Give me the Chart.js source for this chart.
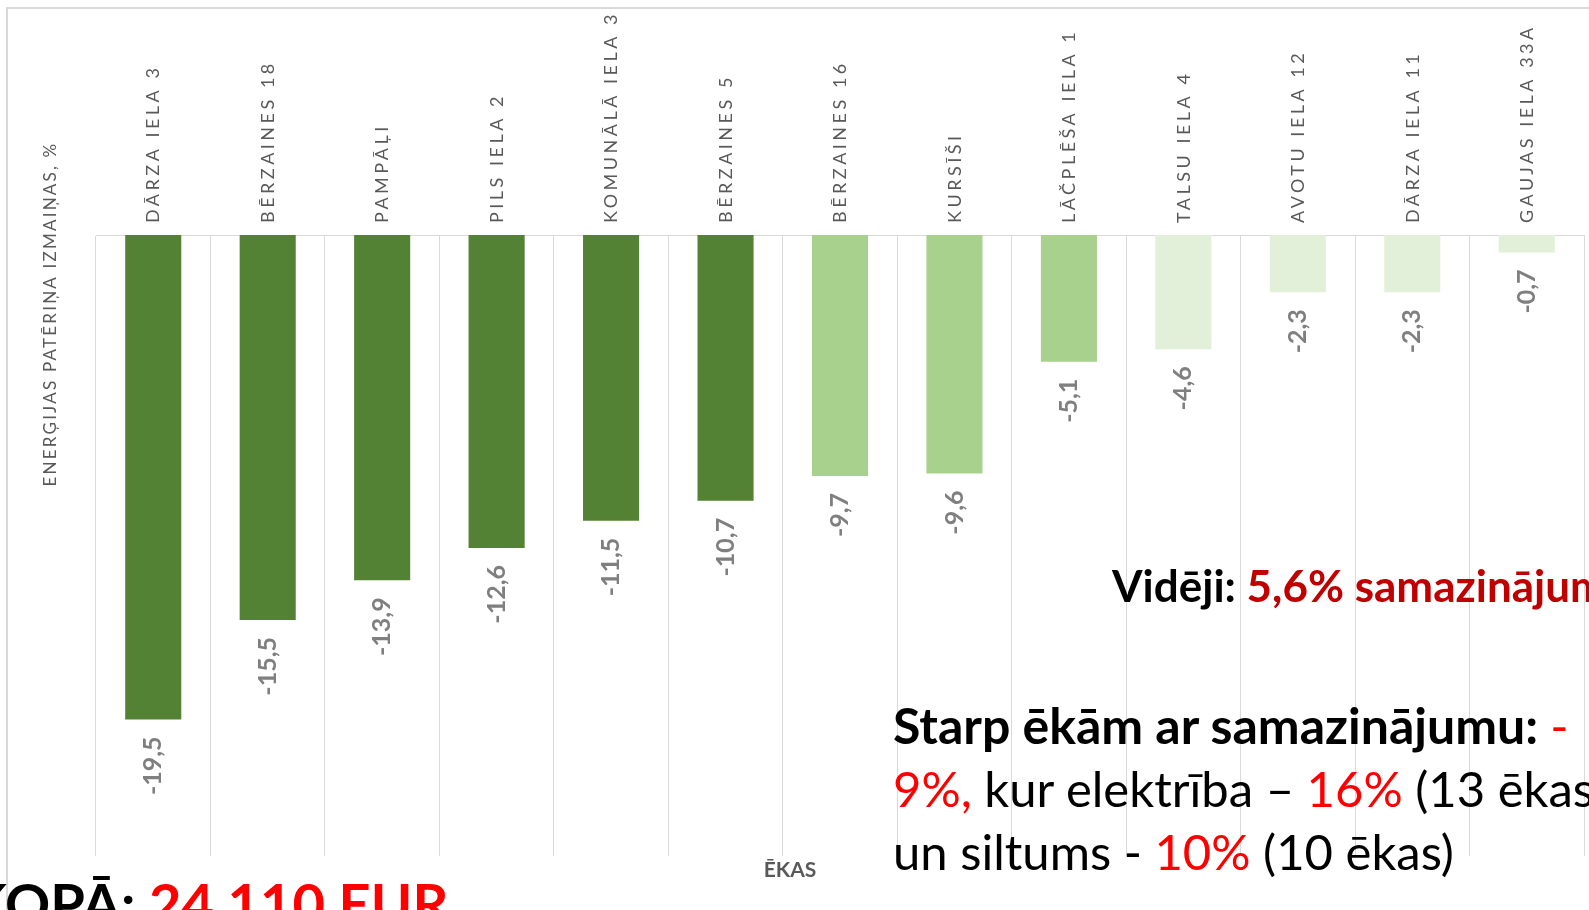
<!DOCTYPE html>
<html lang="lv">
<head>
<meta charset="utf-8">
<title>Enerģijas patēriņa izmaiņas</title>
<script src="https://cdn.jsdelivr.net/npm/chart.js@4.4.1/dist/chart.umd.min.js"></script>
<style>
    body {
        margin: 0;
        width: 1589px;
        height: 910px;
        overflow: hidden;
        position: relative;
        background: #ffffff;
        font-family: Lato, "Open Sans", sans-serif;
    }

    #frame {
        position: absolute;
        left: 6px;
        top: 7px;
        width: 1700px;
        height: 1000px;
        border: 2px solid #d9d9d9;
    }

    #chart {
        position: absolute;
        left: 0;
        top: 0;
    }

    .note {
        position: absolute;
        white-space: nowrap;
        color: #000000;
    }

    .red { color: #ff0000; }
    .dark-red { color: #c00000; }

    #avg {
        left: 1112px;
        top: 563px;
        font-size: 44px;
        font-weight: 700;
        line-height: 1;
    }

    #between {
        left: 893px;
        top: 694px;
        font-size: 49px;
        line-height: 63px;
    }

    #between b {
        font-size: 50px;
    }

    #total {
        left: 149px;
        top: 875px;
        font-size: 56px;
        font-weight: 700;
        line-height: 1;
    }

    #total .lead {
        position: absolute;
        right: 100%;
        top: 0;
    }
</style>
</head>
<body>

<div id="frame"></div>
<canvas id="chart" width="1589" height="910"></canvas>

<div class="note" id="avg">Vidēji: <span class="dark-red">5,6% samazinājums</span></div>

<div class="note" id="between"><b>Starp ēkām ar samazinājumu: </b><span class="red">-</span><br><span class="red">9%,</span> kur elektrība – <span class="red">16%</span> (13 ēkas)<br>un siltums - <span class="red">10%</span> (10 ēkas)</div>

<div class="note" id="total"><span class="lead">KOPĀ:&nbsp;</span><span class="red">24 110 EUR</span></div>

<script>

/* =========================
   DATA
========================= */

const buildings = [
    "DĀRZA IELA 3",
    "BĒRZAINES 18",
    "PAMPĀĻI",
    "PILS IELA 2",
    "KOMUNĀLĀ IELA 3",
    "BĒRZAINES 5",
    "BĒRZAINES 16",
    "KURSĪŠI",
    "LĀČPLĒŠA IELA 1",
    "TALSU IELA 4",
    "AVOTU IELA 12",
    "DĀRZA IELA 11",
    "GAUJAS IELA 33A"
];

const changePct = [
    -19.5, -15.5, -13.9, -12.6, -11.5, -10.7,
    -9.7, -9.6, -5.1,
    -4.6, -2.3, -2.3, -0.7
];

const yTitle = "ENERĢIJAS PATĒRIŅA IZMAIŅAS, %";
const xTitle = "ĒKAS";

/* =========================
   STYLES
========================= */

const barColours = [
    "#548235", "#548235", "#548235", "#548235", "#548235", "#548235",
    "#a9d18e", "#a9d18e", "#a9d18e",
    "#e2f0d9", "#e2f0d9", "#e2f0d9", "#e2f0d9"
];

const labelGrey = "#595959";
const gridGrey = "#d9d9d9";

function formatPct(v) {
    return v.toFixed(1).replace(".", ",");
}

/* =========================
   PLUGINS
========================= */

// wide letter spacing for the building names only
const tickSpacing = {
    id: "tickSpacing",
    beforeDraw(chart) {
        chart.ctx.letterSpacing = "3.5px";
    },
    beforeDatasetsDraw(chart) {
        chart.ctx.letterSpacing = "0px";
    }
};

const valueLabels = {
    id: "valueLabels",
    afterDatasetsDraw(chart) {
        const ctx = chart.ctx;
        const meta = chart.getDatasetMeta(0);

        ctx.save();
        ctx.letterSpacing = "0px";
        ctx.font = "bold 25px Lato";
        ctx.fillStyle = "#7f7f7f";
        ctx.textAlign = "right";
        ctx.textBaseline = "middle";

        meta.data.forEach((bar, i) => {
            ctx.save();
            ctx.translate(bar.x, bar.y + 17);
            ctx.rotate(-Math.PI / 2);
            ctx.fillText(formatPct(changePct[i]), 0, 0);
            ctx.restore();
        });

        ctx.restore();
    }
};

const axisTitles = {
    id: "axisTitles",
    afterDraw(chart) {
        const ctx = chart.ctx;
        const area = chart.chartArea;

        ctx.save();
        ctx.fillStyle = labelGrey;
        ctx.textAlign = "center";
        ctx.textBaseline = "middle";
        ctx.font = "17px Lato";
        ctx.letterSpacing = "2.2px";
        ctx.translate(area.left - 45, area.top + 79);
        ctx.rotate(-Math.PI / 2);
        ctx.fillText(yTitle, 0, 0);
        ctx.restore();

        ctx.save();
        ctx.fillStyle = labelGrey;
        ctx.textAlign = "center";
        ctx.textBaseline = "middle";
        ctx.font = "bold 21px Lato";
        ctx.letterSpacing = "0px";
        ctx.fillText(xTitle, area.left + 694, area.bottom + 14);
        ctx.restore();
    }
};

/* =========================
   CHART
========================= */

const ctx = document.getElementById("chart");

new Chart(ctx, {

    type: "bar",

    data: {
        labels: buildings,
        datasets: [
            {
                data: changePct,
                backgroundColor: barColours,
                borderWidth: 0,
                barPercentage: 0.49,
                categoryPercentage: 1
            }
        ]
    },

    options: {

        responsive: false,

        animation: false,

        layout: {
            padding: { left: 96, right: 5, top: 0, bottom: 54 }
        },

        plugins: {
            legend: { display: false },
            tooltip: { enabled: false }
        },

        scales: {

            x: {
                position: "top",
                grid: {
                    color: gridGrey,
                    drawTicks: false,
                    offset: true
                },
                border: {
                    color: gridGrey
                },
                ticks: {
                    autoSkip: false,
                    minRotation: 90,
                    maxRotation: 90,
                    padding: 12,
                    labelOffset: 22,
                    color: labelGrey,
                    font: { family: "Lato", size: 18 }
                },
                afterFit(scale) {
                    scale.height = 235;
                }
            },

            y: {
                display: false,
                min: -25,
                max: 0
            }

        }

    },

    plugins: [tickSpacing, valueLabels, axisTitles]

});

</script>
</body>
</html>
